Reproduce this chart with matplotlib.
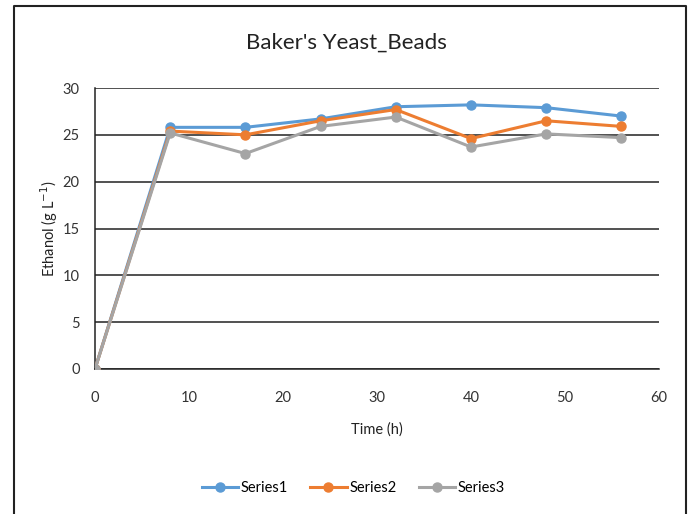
import numpy as np
import matplotlib.pyplot as plt
from matplotlib.lines import Line2D

time_h = [0, 8, 16, 24, 32, 40, 48, 56]
series1 = [0, 25.8, 25.8, 26.7, 28.0, 28.2, 27.9, 27.0]
series2 = [0, 25.4, 25.0, 26.5, 27.7, 24.6, 26.5, 25.9]
series3 = [0, 25.2, 23.0, 25.9, 26.9, 23.7, 25.1, 24.7]
labels = ["Series1", "Series2", "Series3"]
colors = ["#5B9BD5", "#ED7D31", "#A5A5A5"]

plt.rcParams['font.family'] = ['Lato', 'DejaVu Sans']

fig = plt.figure(figsize=(6.93, 5.14), dpi=100)
ax = fig.add_axes([95/693, 1-369/514, 564/693, 281/514])

for ys, lab, c in zip([series1, series2, series3], labels, colors):
    ax.plot(time_h, ys, color=c, lw=2.2, marker="o", ms=6.5, label=lab, zorder=3)

ax.set_xlim(0, 60)
ax.set_ylim(0, 30)
ax.set_xticks(np.arange(0, 61, 10))
ax.set_yticks(np.arange(0, 31, 5))
ax.yaxis.grid(True, color="#222222", lw=1.1)
ax.set_axisbelow(True)
ax.tick_params(length=0, labelsize=10.5, colors="#333333")
ax.tick_params(axis="x", pad=16)
ax.tick_params(axis="y", pad=11)
for s in ["top", "right"]:
    ax.spines[s].set_visible(False)
ax.spines["left"].set_color("#222222")
ax.spines["bottom"].set_color("#222222")
ax.spines["left"].set_linewidth(1.1)
ax.spines["bottom"].set_linewidth(1.1)

fig.text(0.5, 1-43/514, "Baker's Yeast_Beads", fontsize=16, color="#222222",
         ha="center", va="center")
ax.set_xlabel("Time (h)", fontsize=10.5, color="#222222", labelpad=12)
ax.set_ylabel("Ethanol (g L$^{-1}$)", fontsize=10.5, color="#222222", labelpad=2)

fig.legend(loc="center", bbox_to_anchor=(0.51, 1-488/514), ncol=3, frameon=False,
           fontsize=10.5, handlelength=2.5, columnspacing=1.5, handletextpad=0.2)

# chart border
fig.add_artist(Line2D([13.5/693, 13.5/693, 686/693, 686/693], [0, 1-6/514, 1-6/514, 0],
                      transform=fig.transFigure, color="#222222", lw=1.5))

fig.savefig("out.png", dpi=100)
